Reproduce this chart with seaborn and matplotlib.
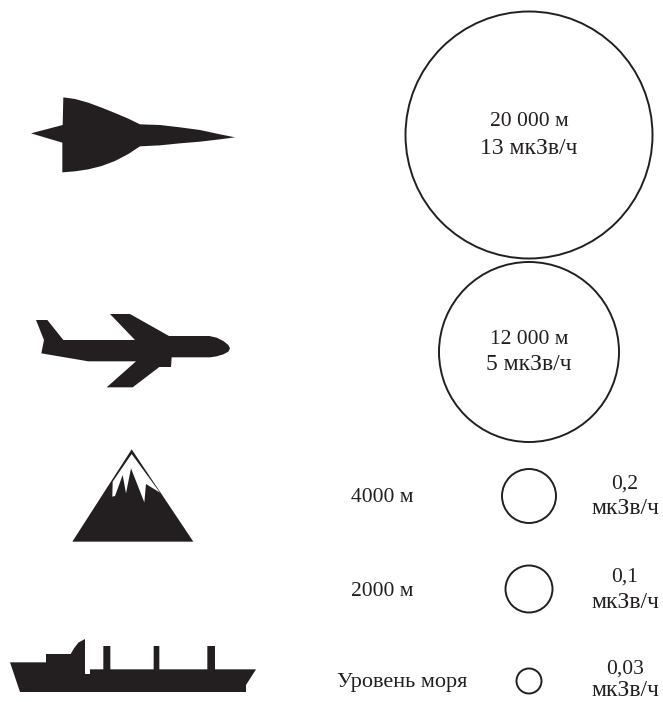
import numpy as np
import pandas as pd
import seaborn as sns
import matplotlib
matplotlib.use('Agg')
import matplotlib.pyplot as plt

INK = '#231f20'

# values
altitudes = ['20 000 м', '12 000 м', '4000 м', '2000 м', 'Уровень моря']
doses = ['13', '5', '0,2', '0,1', '0,03']
circle_diameters = [247, 180, 54, 47, 25]
unit = 'мкЗв/ч'

# layout, in reference pixels
circle_x = [529, 529, 529, 529, 529]
circle_y = [135, 352, 496, 589, 681]
altitude_x = [529, 529, 382, 382, 402]
altitude_y = [122, 340, 498, 591, 683]
dose_x = 625
dose_y = [484, 577, 669]
unit_y = [509, 603, 690]
inner_dose_y = [149, 364]

# icon outlines, in 3x zoomed pixels of each icon's box
jet = (0, 80, [(93, 160), (188, 135), (190, 52), (225, 57), (265, 68), (305, 83), (345, 99), (385, 116),
               (420, 133), (480, 135), (540, 142), (600, 150), (660, 163), (705, 172), (660, 178), (600, 185),
               (540, 190), (480, 196), (420, 199), (385, 222), (345, 243), (305, 258), (265, 268), (225, 274),
               (187, 277), (187, 188)])
airliner = (20, 300, [(48, 60), (82, 60), (130, 120), (345, 120), (270, 42), (330, 42), (447, 108),
                      (568, 108), (590, 113), (610, 123), (625, 135), (630, 145), (625, 155), (610, 163),
                      (590, 169), (570, 172), (455, 172), (453, 201), (418, 201), (338, 262), (260, 262),
                      (348, 184), (205, 184), (64, 160), (72, 120)])
mountain = (60, 440, [(215, 28), (400, 305), (37, 305)])
snow = (60, 440, [(215, 42), (300, 158), (258, 132), (253, 187), (213, 85), (198, 160), (188, 105),
                  (165, 168), (157, 170), (158, 125)])
ship = (0, 630, [(30, 97), (138, 97), (138, 72), (212, 72), (222, 55), (235, 38), (255, 27), (255, 132),
                 (270, 132), (270, 118), (310, 118), (310, 48), (331, 48), (331, 118), (461, 118), (461, 48),
                 (478, 48), (478, 118), (622, 118), (622, 48), (645, 48), (645, 118), (768, 118), (738, 165),
                 (738, 186), (60, 186)])


def draw_icon(ax, icon, color=INK):
    ox, oy, pts = icon
    pts = np.array(pts) / 3.0
    ax.fill(ox + pts[:, 0], oy + pts[:, 1], color=color, linewidth=0, zorder=3)


sns.set_theme(style='white')
plt.rcParams['font.family'] = ['Liberation Serif', 'DejaVu Serif']

fig = plt.figure(figsize=(6.63, 7.02), dpi=100)
ax = fig.add_axes([0, 0, 1, 1])

df = pd.DataFrame({'x': circle_x, 'y': circle_y, 'diameter': circle_diameters})
# marker area is in points^2, 1 px = 0.72 pt at this dpi
sizes = {d: (d * 0.72) ** 2 for d in circle_diameters}
sns.scatterplot(data=df, x='x', y='y', size='diameter', sizes=sizes, marker='o', facecolor='none',
                edgecolor=INK, linewidth=1.4, legend=False, clip_on=False, ax=ax)

ax.set_xlim(0, 663)
ax.set_ylim(702, 0)
ax.axis('off')

for icon in [jet, airliner, mountain]:
    draw_icon(ax, icon)
draw_icon(ax, snow, 'white')
draw_icon(ax, ship)

fs = 15.5
fs_unit = 17
for i, label in enumerate(altitudes):
    size = 16 if i == 4 else fs
    ax.text(altitude_x[i], altitude_y[i], label, ha='center', va='center', fontsize=size, color=INK)
for i in range(2):
    ax.text(circle_x[i], inner_dose_y[i], doses[i] + ' ' + unit, ha='center', va='center', fontsize=fs_unit, color=INK)
for i in range(3):
    ax.text(dose_x, dose_y[i], doses[i + 2], ha='center', va='center', fontsize=fs, color=INK)
    ax.text(dose_x, unit_y[i], unit, ha='center', va='center', fontsize=fs_unit, color=INK)

fig.savefig('out.png', dpi=100, facecolor='white')
